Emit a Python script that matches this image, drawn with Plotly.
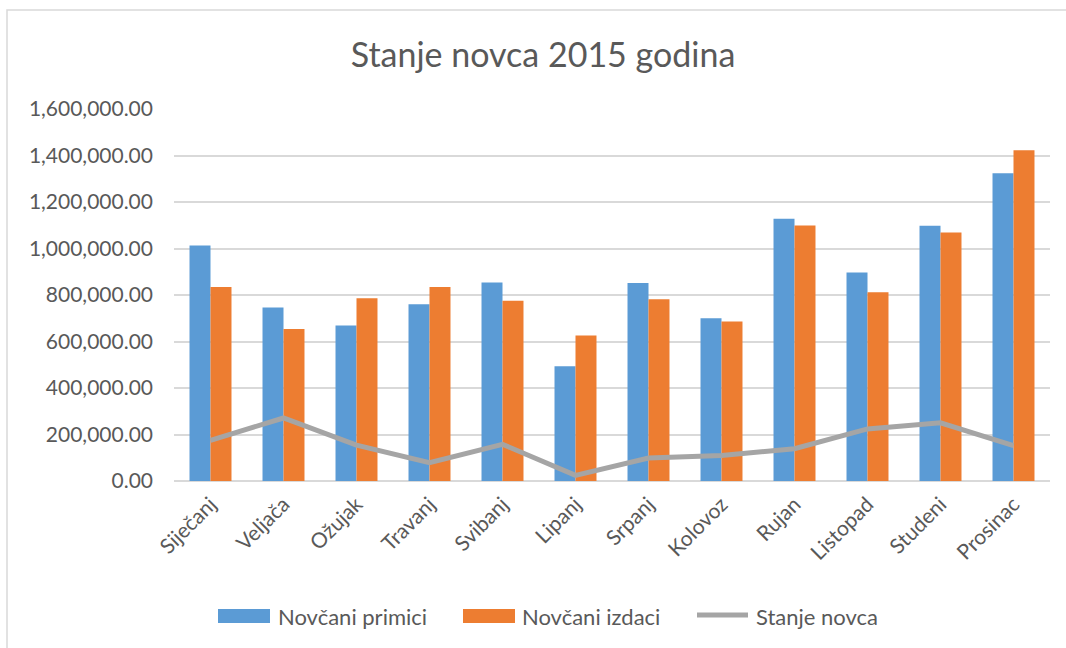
import plotly.graph_objects as go

months = ["Siječanj", "Veljača", "Ožujak", "Travanj", "Svibanj", "Lipanj",
          "Srpanj", "Kolovoz", "Rujan", "Listopad", "Studeni", "Prosinac"]
primici = [1013000, 746000, 669000, 760000, 854000, 494000,
           852000, 700000, 1128000, 897000, 1098000, 1324000]
izdaci = [834000, 654000, 786000, 834000, 775000, 626000,
          782000, 686000, 1099000, 812000, 1069000, 1423000]
stanje = [175000, 271000, 154000, 79000, 158000, 24000,
          99000, 110000, 139000, 224000, 250000, 152000]
series_names = ["Novčani primici", "Novčani izdaci", "Stanje novca"]
colors = ["#5B9BD5", "#ED7D31", "#A5A5A5"]

FONT = "Lato"
TXT = "#595959"

fig = go.Figure()
fig.add_trace(go.Bar(x=months, y=primici, name=series_names[0],
                     marker=dict(color=colors[0], line=dict(width=0))))
fig.add_trace(go.Bar(x=months, y=izdaci, name=series_names[1],
                     marker=dict(color=colors[1], line=dict(width=0))))
fig.add_trace(go.Scatter(x=months, y=stanje, name=series_names[2], mode="lines",
                         line=dict(color=colors[2], width=5)))

L, R, T, B = 174, 16, 109, 167
W, H = 1066, 648
pw = W - L - R
ph = H - T - B


def px_x(p):
    return (p - L) / pw


def px_y(p):
    return (H - B - p) / ph


shapes = [dict(type="rect", xref="paper", yref="paper",
               x0=px_x(7), x1=px_x(1100), y0=px_y(700), y1=px_y(10),
               line=dict(color="#D9D9D9", width=1.5), fillcolor="rgba(0,0,0,0)",
               layer="below")]
annotations = []
# custom legend (keys + labels)
leg_y = 616
keys = [(218, 270, 276), (463, 515, 520), (695, 750, 754)]
for i, (k0, k1, tx) in enumerate(keys):
    if i < 2:
        shapes.append(dict(type="rect", xref="paper", yref="paper",
                           x0=px_x(k0), x1=px_x(k1), y0=px_y(623), y1=px_y(609),
                           line=dict(width=0), fillcolor=colors[i]))
    else:
        shapes.append(dict(type="line", xref="paper", yref="paper",
                           x0=px_x(k0 + 2), x1=px_x(k1 - 2), y0=px_y(leg_y - 1), y1=px_y(leg_y - 1),
                           line=dict(color=colors[i], width=5)))
    annotations.append(dict(text=series_names[i], xref="paper", yref="paper",
                            x=px_x(tx), y=px_y(leg_y), xanchor="left", yanchor="middle",
                            showarrow=False, font=dict(family=FONT, size=22, color=TXT)))

fig.update_layout(
    width=W, height=H,
    margin=dict(l=L, r=R, t=T, b=B),
    paper_bgcolor="white", plot_bgcolor="white",
    font=dict(family=FONT, color=TXT, size=21),
    title=dict(text="Stanje novca 2015 godina", x=543 / W, xref="container",
               y=1 - 55 / H, yref="container", xanchor="center", yanchor="middle",
               font=dict(family=FONT, size=34, color=TXT)),
    barmode="group", bargap=0.425, bargroupgap=0,
    showlegend=False,
    xaxis=dict(tickangle=-45, showgrid=False, showline=False, ticks="",
               ticklabelstandoff=6,
               tickfont=dict(family=FONT, size=21, color=TXT)),
    yaxis=dict(range=[0, 1600000], dtick=200000, tickformat=",.2f",
               showgrid=True, gridcolor="#D9D9D9", gridwidth=1.5,
               zeroline=True, zerolinecolor="#D9D9D9", zerolinewidth=1.5,
               showline=False, ticks="", ticklabelstandoff=20,
               tickfont=dict(family=FONT, size=21, color=TXT)),
    shapes=shapes,
    annotations=annotations,
)

fig.write_html("out.html", config={"displayModeBar": False},
               post_script="document.body.style.margin='0';document.body.style.overflow='hidden';")
